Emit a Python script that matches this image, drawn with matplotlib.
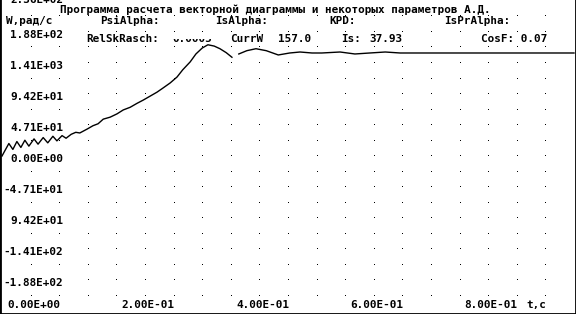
import numpy as np
import matplotlib
matplotlib.use('Agg')
import matplotlib.pyplot as plt
from matplotlib.patches import Rectangle

plt.rcParams['font.family'] = ['DejaVu Sans Mono']
plt.rcParams['font.weight'] = 'bold'

# speed curve W(t) (nan = gap in the trace)
t = [0.000, 0.005, 0.012, 0.019, 0.026, 0.033, 0.040, 0.047, 0.056, 0.063,
     0.072, 0.080, 0.089, 0.096, 0.105, 0.112, 0.121, 0.129, 0.136, 0.149,
     0.159, 0.168, 0.177, 0.189, 0.201, 0.212, 0.224, 0.236, 0.247, 0.259,
     0.271, 0.281, 0.294, 0.306, 0.316, 0.329, 0.339, 0.350, 0.360, 0.371,
     0.381, 0.392, 0.402, 0.408, 0.414, 0.428, 0.444, 0.462, 0.483, 0.503,
     0.521, 0.542, 0.559, 0.591, 0.617, 0.643, 0.670, 0.696, 0.748, 1.000]
w = [0, 8, 19, 10, 22, 13, 24, 15, 26, 18,
     28, 20, 30, 23, 31, 27, 33, 36, 35, 41,
     46, 49, 56, 59, 64, 70, 74, 80, 85, 91,
     97, 103, 111, 120, 131, 143, 155, 164, 169, 167,
     163, 157, 150, np.nan, 155, 160, 163, 160, 153.5, 156.5,
     158, 156.5, 156.5, 158, 155, 156.5, 158, 156.5, 156.5, 156.5]

y_ticks = [235.5, 188.4, 141.3, 94.2, 47.1, 0.0, -47.1, -94.2, -141.3, -188.4]
y_labels = ['2.36E+02', '1.88E+02', '1.41E+03', '9.42E+01', '4.71E+01',
            '0.00E+00', '-4.71E+01', '9.42E+01', '-1.41E+02', '-1.88E+02']
x_ticks = [0.0, 0.2, 0.4, 0.6, 0.8]
x_labels = ['0.00E+00', '2.00E-01', '4.00E-01', '6.00E-01', '8.00E-01']

title = 'Программа расчета векторной диаграммы и некоторых параметров А.Д.'

fig = plt.figure(figsize=(5.76, 3.14), dpi=100)
ax = fig.add_axes([0, 0, 1, 1])
ax.set_xlim(-0.0035, 1.0035)
ax.set_ylim(-240, 237)
ax.set_xticks([])
ax.set_yticks([])
ax.spines['top'].set_visible(False)
for s in ['left', 'right', 'bottom']:
    ax.spines[s].set_linewidth(2)
    ax.spines[s].set_color('black')
    ax.spines[s].set_zorder(8)

# dotted grid
gx, gy = np.meshgrid(np.arange(0.05, 1.0, 0.05), np.arange(-9, 10) * 23.55)
ax.plot(gx.ravel(), gy.ravel(), ',', color='black', zorder=1)

ax.plot(t, w, color='black', lw=1, zorder=2)

box = dict(facecolor='white', edgecolor='none', pad=0)
fs = 7.9

def ftext(x, y, s, **kw):
    fig.text(x / 576, 1 - y / 314, s, fontsize=fs, va='center', zorder=5, **kw)

for v, lab in zip(y_ticks, y_labels):
    shift = 2 if v > 230 else -4
    ax.text(63 / 576, v + shift, lab, transform=ax.get_yaxis_transform(),
            ha='right', va='center', fontsize=fs, bbox=box, zorder=5)

for v, lab in zip(x_ticks, x_labels):
    ax.text(v + 0.009, -226, lab, ha='left', va='center', fontsize=fs, bbox=box, zorder=5)
ax.text(0.916, -226, 't,с', ha='left', va='center', fontsize=fs, bbox=box, zorder=5)

ftext(60, 10, title)
ftext(6, 21, 'W,рад/с')
ftext(100, 21, 'PsiAlpha:')
ftext(215, 21, 'IsAlpha:')
ftext(329, 21, 'KPD:')
ftext(444, 21, 'IsPrAlpha:')

ftext(86, 39, 'RelSkRasch:')
ftext(172, 39, '0.0005')
ftext(230, 39, 'CurrW')
ftext(278, 39, '157.0')
ftext(341, 39, 'Is:')
ftext(369, 39, '37.93')
ftext(481, 39, 'CosF: 0.07')

# top of the RelSkRasch value is wiped on screen
fig.patches.append(Rectangle((170 / 576, 1 - 38.5 / 314), 46 / 576, 6 / 314,
                             transform=fig.transFigure, facecolor='white',
                             edgecolor='none', zorder=10))

plt.savefig('out.png', dpi=100)
